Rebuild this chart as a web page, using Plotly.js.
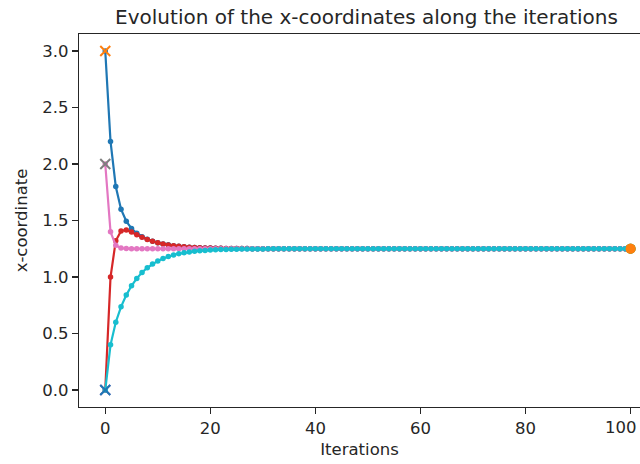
<!DOCTYPE html>
<html>
<head>
<meta charset="utf-8">
<script src="https://cdn.plot.ly/plotly-3.0.1.min.js"></script>
<style>html,body{margin:0;padding:0;background:#fff;}#chart{width:640px;height:464px;}</style>
</head>
<body>
<div id="chart"></div>
<script>
var iterations = [
  0,1,2,3,4,5,6,7,8,9,
  10,11,12,13,14,15,16,17,18,19,
  20,21,22,23,24,25,26,27,28,29,
  30,31,32,33,34,35,36,37,38,39,
  40,41,42,43,44,45,46,47,48,49,
  50,51,52,53,54,55,56,57,58,59,
  60,61,62,63,64,65,66,67,68,69,
  70,71,72,73,74,75,76,77,78,79,
  80,81,82,83,84,85,86,87,88,89,
  90,91,92,93,94,95,96,97,98,99,
  100];

var agentA = [
  3.0, 2.2, 1.8, 1.6, 1.4928, 1.4291, 1.3872, 1.3573, 1.3349, 1.3175,
  1.3038, 1.2930, 1.2844, 1.2775, 1.2720, 1.2676, 1.2641, 1.2613, 1.2590, 1.2572,
  1.2558, 1.2546, 1.2537, 1.2530, 1.2524, 1.2519, 1.2515, 1.2512, 1.2510, 1.2508,
  1.2506, 1.2505, 1.2504, 1.2503, 1.2503, 1.2502, 1.2502, 1.2501, 1.2501, 1.2501,
  1.2501, 1.25, 1.25, 1.25, 1.25, 1.25, 1.25, 1.25, 1.25, 1.25,
  1.25, 1.25, 1.25, 1.25, 1.25, 1.25, 1.25, 1.25, 1.25, 1.25,
  1.25, 1.25, 1.25, 1.25, 1.25, 1.25, 1.25, 1.25, 1.25, 1.25,
  1.25, 1.25, 1.25, 1.25, 1.25, 1.25, 1.25, 1.25, 1.25, 1.25,
  1.25, 1.25, 1.25, 1.25, 1.25, 1.25, 1.25, 1.25, 1.25, 1.25,
  1.25, 1.25, 1.25, 1.25, 1.25, 1.25, 1.25, 1.25, 1.25, 1.25,
  1.25];

var agentB = [
  0.0, 1.0, 1.32, 1.408, 1.416, 1.3984, 1.3749, 1.3524, 1.3329, 1.3167,
  1.3035, 1.2929, 1.2843, 1.2775, 1.2720, 1.2676, 1.2641, 1.2613, 1.2590, 1.2572,
  1.2558, 1.2546, 1.2537, 1.2530, 1.2524, 1.2519, 1.2515, 1.2512, 1.2510, 1.2508,
  1.2506, 1.2505, 1.2504, 1.2503, 1.2503, 1.2502, 1.2502, 1.2501, 1.2501, 1.2501,
  1.2501, 1.25, 1.25, 1.25, 1.25, 1.25, 1.25, 1.25, 1.25, 1.25,
  1.25, 1.25, 1.25, 1.25, 1.25, 1.25, 1.25, 1.25, 1.25, 1.25,
  1.25, 1.25, 1.25, 1.25, 1.25, 1.25, 1.25, 1.25, 1.25, 1.25,
  1.25, 1.25, 1.25, 1.25, 1.25, 1.25, 1.25, 1.25, 1.25, 1.25,
  1.25, 1.25, 1.25, 1.25, 1.25, 1.25, 1.25, 1.25, 1.25, 1.25,
  1.25, 1.25, 1.25, 1.25, 1.25, 1.25, 1.25, 1.25, 1.25, 1.25,
  1.25];

var agentC = [
  2.0, 1.4, 1.28, 1.256, 1.2512, 1.2502, 1.25, 1.25, 1.25, 1.25,
  1.25, 1.25, 1.25, 1.25, 1.25, 1.25, 1.25, 1.25, 1.25, 1.25,
  1.25, 1.25, 1.25, 1.25, 1.25, 1.25, 1.25, 1.25, 1.25, 1.25,
  1.25, 1.25, 1.25, 1.25, 1.25, 1.25, 1.25, 1.25, 1.25, 1.25,
  1.25, 1.25, 1.25, 1.25, 1.25, 1.25, 1.25, 1.25, 1.25, 1.25,
  1.25, 1.25, 1.25, 1.25, 1.25, 1.25, 1.25, 1.25, 1.25, 1.25,
  1.25, 1.25, 1.25, 1.25, 1.25, 1.25, 1.25, 1.25, 1.25, 1.25,
  1.25, 1.25, 1.25, 1.25, 1.25, 1.25, 1.25, 1.25, 1.25, 1.25,
  1.25, 1.25, 1.25, 1.25, 1.25, 1.25, 1.25, 1.25, 1.25, 1.25,
  1.25, 1.25, 1.25, 1.25, 1.25, 1.25, 1.25, 1.25, 1.25, 1.25,
  1.25];

var agentD = [
  0.0, 0.4, 0.6, 0.736, 0.84, 0.9222, 0.9878, 1.0403, 1.0822, 1.1158,
  1.1426, 1.1641, 1.1813, 1.1950, 1.2060, 1.2148, 1.2219, 1.2275, 1.2320, 1.2356,
  1.2385, 1.2408, 1.2426, 1.2441, 1.2453, 1.2462, 1.2470, 1.2476, 1.2481, 1.2485,
  1.2488, 1.2490, 1.2492, 1.2494, 1.2495, 1.2496, 1.2497, 1.2497, 1.2498, 1.2498,
  1.2499, 1.2499, 1.2499, 1.2499, 1.2499, 1.25, 1.25, 1.25, 1.25, 1.25,
  1.25, 1.25, 1.25, 1.25, 1.25, 1.25, 1.25, 1.25, 1.25, 1.25,
  1.25, 1.25, 1.25, 1.25, 1.25, 1.25, 1.25, 1.25, 1.25, 1.25,
  1.25, 1.25, 1.25, 1.25, 1.25, 1.25, 1.25, 1.25, 1.25, 1.25,
  1.25, 1.25, 1.25, 1.25, 1.25, 1.25, 1.25, 1.25, 1.25, 1.25,
  1.25, 1.25, 1.25, 1.25, 1.25, 1.25, 1.25, 1.25, 1.25, 1.25,
  1.25];

var xTicks = [0, 20, 40, 60, 80, 100];
var yTicks = [0.0, 0.5, 1.0, 1.5, 2.0, 2.5, 3.0];
var yTickText = ['0.0', '0.5', '1.0', '1.5', '2.0', '2.5', '3.0'];

var C = ['#1f77b4','#ff7f0e','#2ca02c','#d62728','#9467bd','#8c564b','#e377c2','#7f7f7f','#bcbd22','#17becf'];

var groups = [
  {y: agentA, line: C[0], start: C[1], end: C[2]},
  {y: agentB, line: C[3], start: C[4], end: C[5]},
  {y: agentC, line: C[6], start: C[7], end: C[8]},
  {y: agentD, line: C[9], start: C[0], end: C[1]}
];

var traces = [];
groups.forEach(function(g) {
  var last = iterations.length - 1;
  traces.push({
    x: iterations, y: g.y, type: 'scatter', mode: 'lines+markers',
    line: {color: g.line, width: 2.2},
    marker: {color: g.line, size: 5.5},
    hoverinfo: 'x+y'
  });
  traces.push({
    x: [iterations[0]], y: [g.y[0]], type: 'scatter', mode: 'markers',
    marker: {symbol: 'x-thin', size: 10, line: {color: g.start, width: 2}, color: g.start}
  });
  traces.push({
    x: [iterations[last]], y: [g.y[last]], type: 'scatter', mode: 'markers',
    marker: {symbol: 'circle', size: 10, color: g.end}
  });
});

var font = {family: 'DejaVu Sans, sans-serif', size: 16.5, color: '#262626'};

// The last x tick label sits at the figure's right edge; Plotly hides it as a
// tick label, so it is drawn as a text annotation kept just inside the edge.
var lastTick = xTicks[xTicks.length - 1];

var layout = {
  width: 640, height: 464,
  margin: {l: 79, r: 0, t: 34, b: 57, pad: 0},
  paper_bgcolor: '#fff', plot_bgcolor: '#fff',
  showlegend: false,
  font: font,
  title: {text: 'Evolution of the x-coordinates along the iterations',
          font: {family: 'DejaVu Sans, sans-serif', size: 20, color: '#262626'},
          xref: 'container', yref: 'container', x: 366.5/640, xanchor: 'center',
          y: 1 - 17/464, yanchor: 'middle'},
  xaxis: {
    range: [-5, 101.8], showgrid: false, zeroline: false,
    showline: true, mirror: true, linecolor: '#262626', linewidth: 1.2,
    ticks: 'outside', ticklen: 6, tickwidth: 1.2, tickcolor: '#262626',
    tickvals: xTicks, ticktext: xTicks.map(String),
    title: {text: 'Iterations', font: font, standoff: 6}
  },
  yaxis: {
    range: [-0.15, 3.15], showgrid: false, zeroline: false,
    showline: true, mirror: false, linecolor: '#262626', linewidth: 1.2,
    ticks: 'outside', ticklen: 6, tickwidth: 1.2, tickcolor: '#262626',
    tickvals: yTicks, ticktext: yTickText,
    title: {text: 'x-coordinate', font: font, standoff: 10}
  },
  annotations: [{
    x: 1, xref: 'paper', y: 0, yref: 'paper',
    text: String(lastTick), showarrow: false,
    xanchor: 'right', yanchor: 'top', yshift: -9, xshift: -1,
    font: font
  }]
};

Plotly.newPlot('chart', traces, layout, {displayModeBar: false, staticPlot: true});
</script>
</body>
</html>
